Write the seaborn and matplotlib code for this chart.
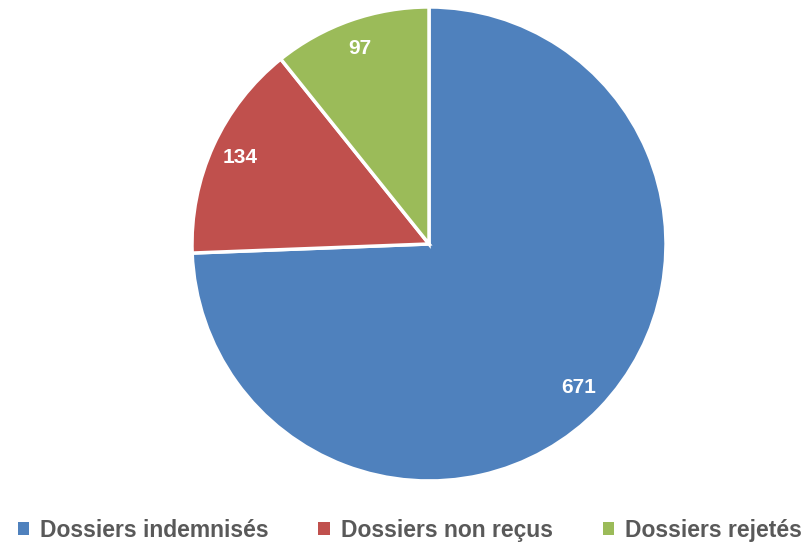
import numpy as np
import seaborn as sns
import matplotlib.pyplot as plt
from matplotlib.patches import Patch

categories = ["Dossiers indemnisés", "Dossiers non reçus", "Dossiers rejetés"]
values = [671, 134, 97]
colors = ["#4F81BD", "#C0504D", "#9BBB59"]

sns.set_theme(style="white")
plt.rcParams["font.family"] = ["Liberation Sans", "DejaVu Sans"]

fig = plt.figure(figsize=(8.07, 5.49), dpi=100)
ax = fig.add_axes([0.2379, 0.1239, 0.5874, 0.8634])
wedges, texts = ax.pie(values,
                       colors=colors,
                       startangle=90,
                       counterclock=False,
                       wedgeprops=dict(edgecolor="white", linewidth=2.5))
for w, v in zip(wedges, values):
    ang = np.deg2rad((w.theta1 + w.theta2) / 2)
    ax.text(0.875 * np.cos(ang), 0.875 * np.sin(ang), str(v),
            ha="center", va="center", color="white",
            fontsize=15, fontweight="bold")
ax.set_xlim(-1.0, 1.0)
ax.set_ylim(-1.0, 1.0)
ax.set_aspect("equal")

handles = [Patch(facecolor=c, edgecolor="none") for c in colors]
leg = fig.legend(handles, categories, loc="lower center",
                 bbox_to_anchor=(0.508, -0.025), ncol=3, frameon=False,
                 handlelength=0.5, handleheight=0.5, handletextpad=0.5,
                 columnspacing=2.15,
                 prop=dict(size=16.5, weight="bold"))
for t in leg.get_texts():
    t.set_color("#595959")

fig.savefig("out.png", dpi=100)
